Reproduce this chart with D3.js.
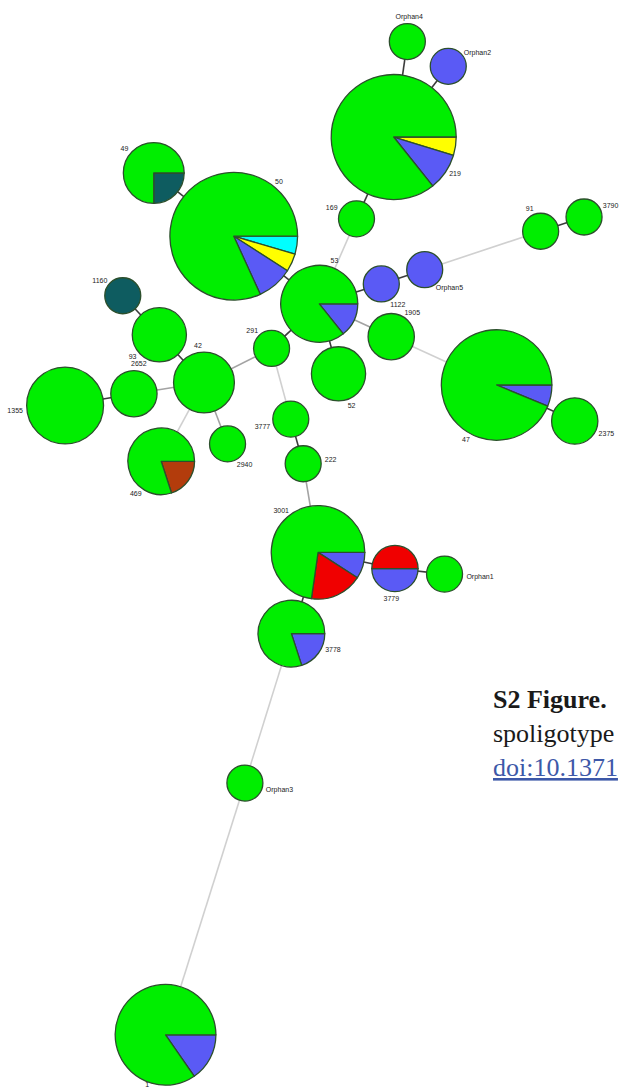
<!DOCTYPE html>
<html>
<head>
<meta charset="utf-8">
<script src="https://cdn.jsdelivr.net/npm/d3@7"></script>
<style>
  body { margin: 0; background: #fff; overflow: hidden; }
  .label { font-family: "Liberation Sans", Arial, sans-serif; font-size: 7px; fill: #222; }
  .caption { font-family: "Liberation Serif", "DejaVu Serif", serif; font-size: 26px; fill: #1a1a1a; }
</style>
</head>
<body>
<svg class="chart"></svg>
<script>
// DATA /////////////////////////////////////////
const nodeNames = ["Orphan4", "Orphan2", "219", "49", "50", "169", "91", "3790", "53", "1122",
  "Orphan5", "1905", "291", "52", "47", "2375", "3777", "222", "1160", "93",
  "42", "2652", "1355", "469", "2940", "3001", "3779", "Orphan1", "3778", "Orphan3", "1"];

// isolates per spoligotype, one array per colour class
const cyanCount   = [0,0,0,0,1,0,0,0,0,0, 0,0,0,0,0,0,0,0,0,0, 0,0,0,0,0,0,0,0,0,0,0];
const yellowCount = [0,0,1,0,1,0,0,0,0,0, 0,0,0,0,0,0,0,0,0,0, 0,0,0,0,0,0,0,0,0,0,0];
const blueCount   = [0,1,2,0,2,0,0,0,1,1, 1,0,0,0,1,0,0,0,0,0, 0,0,0,0,0,1,1,0,1,0,2];
const redCount    = [0,0,0,0,0,0,0,0,0,0, 0,0,0,0,0,0,0,0,0,0, 0,0,0,0,0,2,1,0,0,0,0];
const tealCount   = [0,0,0,1,0,0,0,0,0,0, 0,0,0,0,0,0,0,0,1,0, 0,0,0,0,0,0,0,0,0,0,0];
const brownCount  = [0,0,0,0,0,0,0,0,0,0, 0,0,0,0,0,0,0,0,0,0, 0,0,0,1,0,0,0,0,0,0,0];
const greenCount  = [1,0,18,3,18,1,1,1,6,0, 0,2,1,3,15,2,1,1,0,3, 4,2,7,4,1,8,0,1,4,1,11];

// links: [from, to, distance]
const links = [
  ["Orphan4", "219", 1], ["Orphan2", "219", 1], ["219", "169", 1], ["169", "53", 3],
  ["49", "50", 1], ["50", "53", 1], ["53", "1122", 1], ["1122", "Orphan5", 1],
  ["Orphan5", "91", 3], ["91", "3790", 1], ["53", "1905", 2], ["1905", "47", 3],
  ["47", "2375", 1], ["53", "52", 1], ["53", "291", 1], ["291", "42", 2],
  ["291", "3777", 3], ["3777", "222", 1], ["222", "3001", 2], ["42", "93", 1],
  ["93", "1160", 1], ["42", "2652", 2], ["2652", "1355", 1], ["42", "469", 3],
  ["42", "2940", 2], ["3001", "3779", 1], ["3779", "Orphan1", 1], ["3001", "3778", 1],
  ["3778", "Orphan3", 3], ["Orphan3", "1", 3]
];

// LAYOUT ///////////////////////////////////////
const layoutX = [65.7, 72.3, 63.5, 24.8, 37.7, 57.5, 87.2, 94.2, 51.5, 61.5,
  68.5, 63.1, 43.8, 54.6, 80.1, 92.7, 46.9, 48.9, 19.8, 25.7,
  32.9, 21.6, 10.5, 26.0, 36.7, 51.3, 63.7, 71.7, 47.0, 39.5, 26.7];
const layoutY = [6.7, 10.7, 22.1, 27.9, 38.1, 35.3, 37.3, 35.0, 49.0, 45.8,
  43.5, 54.3, 56.2, 60.3, 62.1, 67.9, 67.6, 74.8, 47.7, 54.0,
  61.7, 63.5, 65.4, 74.4, 71.6, 89.1, 91.7, 92.6, 102.2, 126.3, 166.9];
const labelAngle = [-87, -35, 32, -140, -51, -153, -115, -27, -71, 56,
  46, -53, -134, 68, 119, 25, 162, -9, -141, 140,
  -99, -82, 174, 126, 55, -129, 96, 5, 23, 14, 109];

const seriesNames = ["cyan", "yellow", "blue", "red", "teal", "brown", "green"];
const seriesData = [cyanCount, yellowCount, blueCount, redCount, tealCount, brownCount, greenCount];
const seriesColors = ["#00ffff", "#ffff00", "#5a5af5", "#f00000", "#0e5c60", "#b33c0c", "#00ee00"];

const width = 619;
const height = 1089;

const svg = d3.select(".chart").attr("width", width).attr("height", height);

// SCALES ///////////////////////////////////////
const x = d3.scaleLinear().domain([0, 100]).range([0, 620]);
const y = d3.scaleLinear().domain([0, 100]).range([0, 620]);
const radius = d3.scaleSqrt().domain([1, 21]).range([18, 62.5]);
const color = d3.scaleOrdinal().domain(seriesNames).range(seriesColors);
const linkColor = d3.scaleOrdinal().domain([1, 2, 3]).range(["#3c3c3c", "#a3a3a3", "#d0d0d0"]);

const nodes = nodeNames.map((name, i) => {
  const parts = seriesNames.map((s, j) => ({ key: s, value: seriesData[j][i] }));
  const total = d3.sum(parts, (p) => p.value);
  return {
    name,
    x: x(layoutX[i]),
    y: y(layoutY[i]),
    r: radius(total),
    parts: parts.filter((p) => p.value > 0),
    angle: (labelAngle[i] * Math.PI) / 180,
  };
});
const byName = new Map(nodes.map((d) => [d.name, d]));

// LINKS ////////////////////////////////////////
svg
  .append("g")
  .selectAll("line")
  .data(links)
  .join("line")
  .attr("x1", (d) => byName.get(d[0]).x)
  .attr("y1", (d) => byName.get(d[0]).y)
  .attr("x2", (d) => byName.get(d[1]).x)
  .attr("y2", (d) => byName.get(d[1]).y)
  .attr("stroke", (d) => linkColor(d[2]))
  .attr("stroke-width", 1.6);

// NODES (pies start at 3 o'clock, clockwise) ///
const pie = d3
  .pie()
  .sort(null)
  .value((d) => d.value)
  .startAngle(Math.PI / 2)
  .endAngle(Math.PI / 2 + 2 * Math.PI);

const nodeG = svg
  .append("g")
  .selectAll("g")
  .data(nodes)
  .join("g")
  .attr("transform", (d) => `translate(${d.x}, ${d.y})`);

nodeG
  .selectAll("path")
  .data((d) => pie(d.parts).map((a) => ({ ...a, r: d.r })))
  .join("path")
  .attr("d", (d) => d3.arc().innerRadius(0).outerRadius(d.r)(d))
  .attr("fill", (d) => color(d.data.key))
  .attr("stroke", "#2c4f2c")
  .attr("stroke-width", 1.3)
  .attr("stroke-linejoin", "round");

// LABELS ///////////////////////////////////////
const labels = svg
  .append("g")
  .selectAll("text")
  .data(nodes)
  .join("text")
  .attr("class", "label")
  .attr("text-anchor", "middle")
  .attr("dominant-baseline", "central")
  .text((d) => d.name);

labels.each(function (d) {
  const w = this.getComputedTextLength();
  const c = Math.cos(d.angle);
  const s = Math.sin(d.angle);
  d3.select(this)
    .attr("x", d.x + (d.r + 4) * c + c * w / 2)
    .attr("y", Math.min(height - 5, d.y + (d.r + 4) * s + s * 3));
});

// CAPTION //////////////////////////////////////
const caption = svg.append("g").attr("class", "caption");
caption.append("text").attr("x", 493).attr("y", 708)
  .attr("font-weight", "bold").text("S2 Figure.");
caption.append("text").attr("x", 493).attr("y", 742).text("spoligotype");
caption.append("text").attr("x", 493).attr("y", 776)
  .attr("fill", "#3d58a8").style("text-decoration", "underline").text("doi:10.1371");
</script>
</body>
</html>
